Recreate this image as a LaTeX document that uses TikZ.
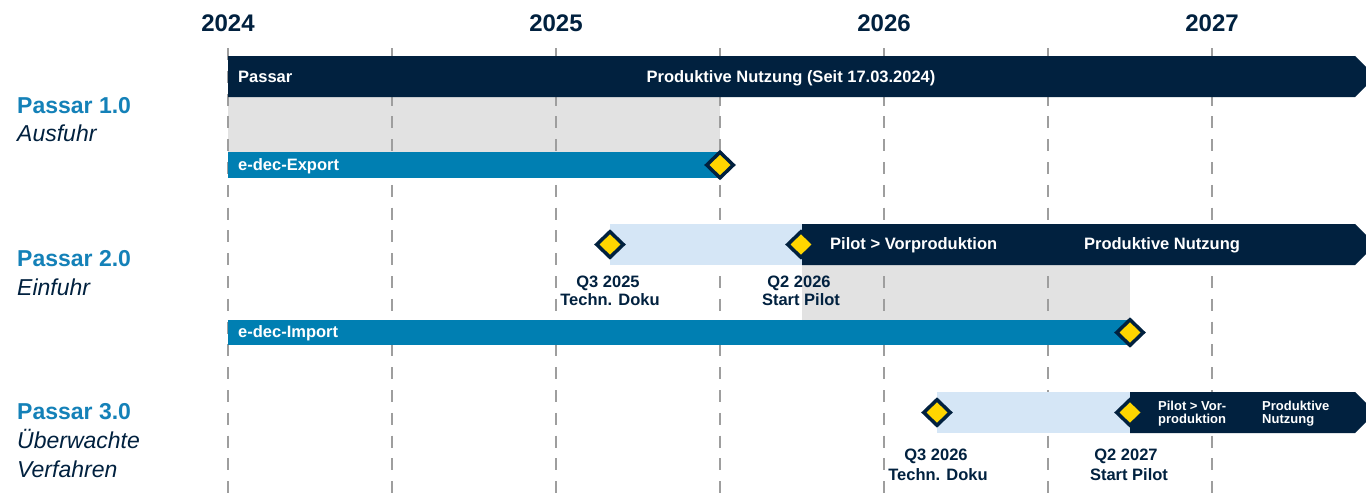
\documentclass[tikz,border=0pt]{standalone}
\usepackage{fontspec}
\setmainfont{Liberation Sans}
\usetikzlibrary{shapes.geometric}

\definecolor{navy}{RGB}{1,33,63}
\definecolor{barblue}{RGB}{0,127,178}
\definecolor{titleblue}{RGB}{20,129,184}
\definecolor{paleblue}{RGB}{213,230,246}
\definecolor{phasegray}{RGB}{226,226,226}
\definecolor{gold}{RGB}{255,214,0}
\definecolor{gridgray}{RGB}{158,158,158}

\newcommand{\fsz}[1]{\fontsize{#1}{#1}\selectfont}

\begin{document}
\begin{tikzpicture}[x=1pt,y=-1pt,
  gridline/.style={draw=gridgray,line width=1.5pt,dash pattern=on 12pt off 10.8pt},
  yearlabel/.style={anchor=base,inner sep=0pt,text=navy,font=\fsz{24}\bfseries},
  titlelabel/.style={anchor=base west,inner sep=0pt,text=titleblue,font=\fsz{23}\bfseries},
  sublabel/.style={anchor=base west,inner sep=0pt,text=navy,font=\fsz{23}\itshape},
  bartext/.style={anchor=base west,inner sep=0pt,text=white,font=\fsz{16.5}\bfseries},
  barcentertext/.style={anchor=base,inner sep=0pt,text=white,font=\fsz{16.5}\bfseries},
  smalltext/.style={anchor=base west,inner sep=0pt,text=white,font=\fsz{13}\bfseries},
  milestone/.style={shape=diamond,draw=navy,line width=3.5pt,fill=gold,inner sep=0pt,
    minimum width=28pt,minimum height=27pt},
  mslabel/.style={anchor=base,inner sep=0pt,text=navy,font=\fsz{16.5}\bfseries},
]
\useasboundingbox[fill=white] (0,0) rectangle (1366,501);

% grey phases behind the grid
\fill[phasegray] (228,97) rectangle (720,152);
\fill[phasegray] (802,265) rectangle (1130,320);

% half-year grid
\foreach \gx in {228,392,556,720,884,1048,1212}
  \draw[gridline] (\gx,48) -- (\gx,501);

% years
\node[yearlabel] (y2024) at (228,31) {2024};
\node[yearlabel] (y2025) at (556,31) {2025};
\node[yearlabel] (y2026) at (884,31) {2026};
\node[yearlabel] (y2027) at (1212,31) {2027};

% row titles
\node[titlelabel] (t1) at (17,113) {Passar 1.0};
\node[sublabel] (s1) at (17,141) {Ausfuhr};
\node[titlelabel] (t2) at (17,266) {Passar 2.0};
\node[sublabel] (s2) at (17,295) {Einfuhr};
\node[titlelabel] (t3) at (17,419) {Passar 3.0};
\node[sublabel] (s3a) at (17,448) {Überwachte};
\node[sublabel] (s3b) at (17,477) {Verfahren};

% Passar 1.0
\fill[navy] (228,56) -- (1355,56) -- (1375.5,76.5) -- (1355,97) -- (228,97) -- cycle;
\node[bartext] (p1a) at (238,82) {Passar};
\node[barcentertext] (p1b) at (791,82) {Produktive Nutzung (Seit 17.03.2024)};
\fill[barblue] (228,152) rectangle (720,178);
\node[bartext] (exp) at (238,170) {e-dec-Export};
\node[milestone] (m1) at (720,165) {};

% Passar 2.0
\fill[paleblue] (610,224) rectangle (802,265);
\fill[navy] (802,224) -- (1355,224) -- (1375.5,244.5) -- (1355,265) -- (802,265) -- cycle;
\node[bartext] (p2a) at (830,249) {Pilot > Vorproduktion};
\node[barcentertext] (p2b) at (1162,249) {Produktive Nutzung};
\node[milestone] (m2a) at (610,244.5) {};
\node[milestone] (m2b) at (801,244.5) {};
\node[mslabel] (l2a1) at (608,287) {Q3 2025};
\node[mslabel] (l2a2) at (610,305) {Techn. Doku};
\node[mslabel] (l2b1) at (799,287) {Q2 2026};
\node[mslabel] (l2b2) at (801,305) {Start Pilot};
\fill[barblue] (228,320) rectangle (1130,345);
\node[bartext] (imp) at (238,337) {e-dec-Import};
\node[milestone] (m2c) at (1130,332.5) {};

% Passar 3.0
\fill[paleblue] (937,392) rectangle (1130,433);
\fill[navy] (1130,392) -- (1355,392) -- (1375.5,412.5) -- (1355,433) -- (1130,433) -- cycle;
\node[smalltext] (p3a1) at (1158,410) {Pilot > Vor-};
\node[smalltext] (p3a2) at (1158,423) {produktion};
\node[smalltext] (p3b1) at (1262,410) {Produktive};
\node[smalltext] (p3b2) at (1262,423) {Nutzung};
\node[milestone] (m3a) at (937,412.5) {};
\node[milestone] (m3b) at (1130,412.5) {};
\node[mslabel] (l3a1) at (936,460) {Q3 2026};
\node[mslabel] (l3a2) at (938,480) {Techn. Doku};
\node[mslabel] (l3b1) at (1126,460) {Q2 2027};
\node[mslabel] (l3b2) at (1129,480) {Start Pilot};
\end{tikzpicture}
\end{document}
